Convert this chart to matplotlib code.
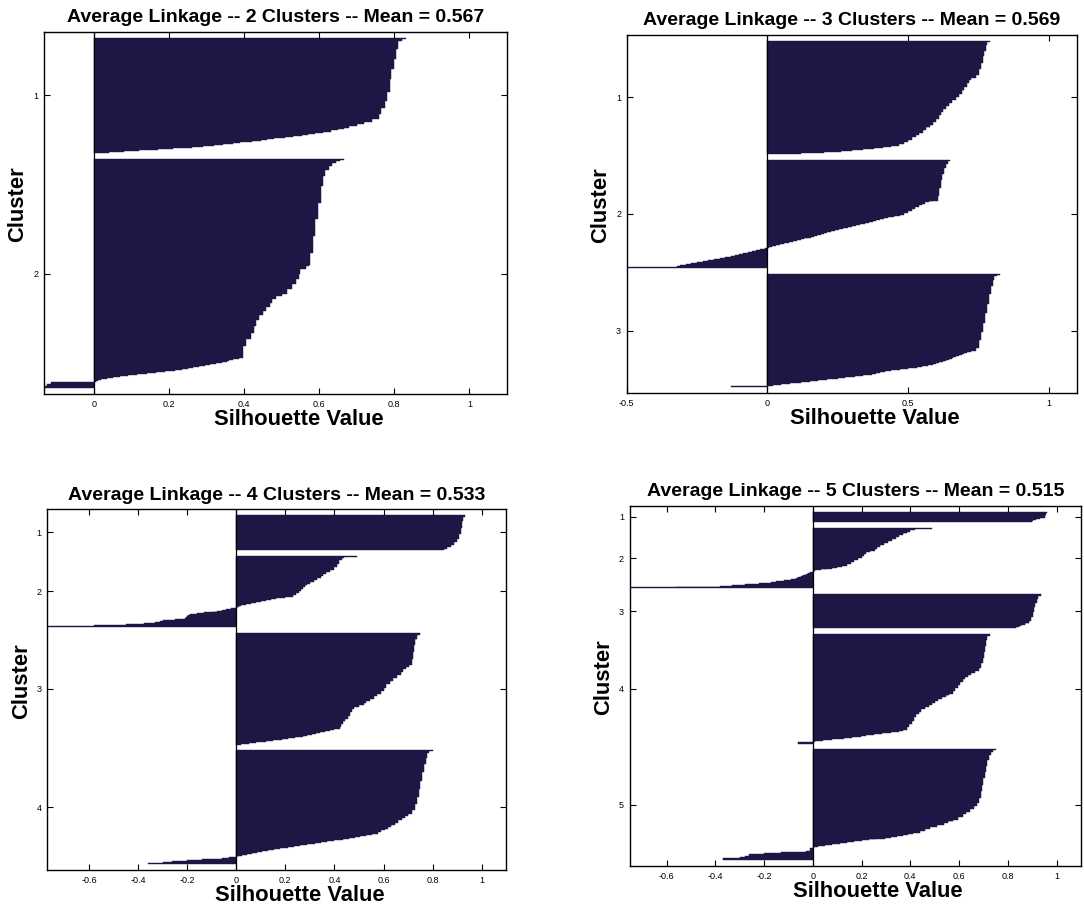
import numpy as np
import matplotlib
matplotlib.use('Agg')
import matplotlib.pyplot as plt
from matplotlib.ticker import FormatStrFormatter

plt.rcParams['font.family'] = ['Liberation Sans', 'DejaVu Sans']

bar_color = '#1c1745'
space = 6  # empty rows above, between and below the clusters

# sorted silhouette values per cluster, stored as value / number of samples
# ---- 2 clusters
k2_c1_vals = [0.83, 0.82, 0.81, 0.805, 0.80, 0.79, 0.788, 0.78, 0.775, 0.765, 0.76,
              0.74, 0.72, 0.70, 0.68, 0.665, 0.65, 0.63,
              0.61, 0.59, 0.57, 0.555, 0.53, 0.51, 0.48, 0.46, 0.445, 0.42, 0.39,
              0.37, 0.345, 0.32, 0.29, 0.26, 0.21, 0.17, 0.12, 0.08, 0.04]
k2_c1_reps = [1, 2, 8, 10, 10, 10, 13, 9, 7, 6, 5,
              3, 2, 2, 2, 1, 1, 2] + [1] * 21
k2_c2_vals = [0.665, 0.655, 0.645, 0.635, 0.625, 0.615, 0.61, 0.605, 0.597, 0.59, 0.584, 0.575, 0.573,
              0.565, 0.55, 0.545, 0.537, 0.528, 0.515, 0.50, 0.485, 0.475, 0.468, 0.458, 0.45,
              0.44, 0.432, 0.427, 0.418, 0.405, 0.398,
              0.385, 0.37, 0.36, 0.354, 0.34, 0.325, 0.31, 0.295, 0.28, 0.265, 0.25, 0.235,
              0.215, 0.19, 0.165, 0.14, 0.115, 0.09, 0.07, 0.05, 0.035, 0.02, 0.01, 0.005,
              -0.115, -0.125, -0.133]
k2_c2_reps = [1, 1, 2, 3, 4, 6, 10, 17, 16, 17, 17, 12, 1,
              3, 5, 5, 5, 5, 5, 2, 3, 4, 4, 4, 4,
              5, 6, 7, 6, 7, 12] + [1] * 24 + [2, 2, 2]

# ---- 3 clusters
k3_c1_vals = [0.79, 0.78, 0.775, 0.77, 0.765, 0.76, 0.752, 0.74, 0.725, 0.715,
              0.708, 0.70, 0.69, 0.68, 0.67, 0.655, 0.645, 0.635, 0.625, 0.618,
              0.61, 0.60, 0.59, 0.576, 0.565, 0.552, 0.54, 0.527, 0.515, 0.50, 0.485, 0.467,
              0.44, 0.41, 0.38, 0.34, 0.30, 0.26, 0.20, 0.12]
k3_c1_reps = [1, 3, 6, 6, 7, 6, 6, 3, 2, 3,
              4, 4, 4, 3, 3, 3, 3, 3, 3, 3,
              4, 3, 3, 3, 3, 3, 2, 2, 3, 2, 2, 2] + [1] * 8
k3_c2_vals = [0.648, 0.64, 0.633, 0.628, 0.622, 0.617, 0.61, 0.605,
              0.59, 0.575, 0.56, 0.55, 0.54, 0.525, 0.515, 0.50, 0.485,
              0.47, 0.45, 0.43, 0.415, 0.40, 0.385, 0.375, 0.36, 0.345, 0.33,
              0.315, 0.30, 0.285, 0.27, 0.255, 0.24, 0.225, 0.21, 0.20, 0.19,
              0.175, 0.165, 0.155, 0.14, 0.13, 0.12, 0.105, 0.09, 0.075, 0.06,
              0.045, 0.03, 0.015, 0.005,
              -0.01, -0.025, -0.04, -0.055, -0.07, -0.085, -0.10, -0.115, -0.13, -0.15,
              -0.17, -0.19, -0.21, -0.23, -0.25, -0.27, -0.29, -0.31, -0.32, -0.50]
k3_c2_reps = [1, 3, 5, 6, 6, 8, 8, 5,
              1, 1, 2, 1, 2, 2, 2, 2, 2] + [1] * 34 + [1] * 20
k3_c3_vals = [0.825, 0.815, 0.805, 0.80, 0.795, 0.788, 0.78, 0.773, 0.767, 0.76, 0.752, 0.74,
              0.725, 0.71, 0.70, 0.69, 0.68, 0.67, 0.66, 0.655, 0.645, 0.635,
              0.625, 0.61, 0.6, 0.588, 0.57, 0.55, 0.53, 0.50, 0.47, 0.44,
              0.418, 0.40, 0.385, 0.37, 0.34, 0.31, 0.275, 0.25, 0.21, 0.18,
              0.15, 0.12, 0.08, 0.05, 0.02, 0.006, -0.13]
k3_c3_reps = [1, 2, 4, 6, 8, 10, 10, 10, 9, 8, 8, 4] + [1] * 37

# ---- 4 clusters
k4_c1_vals = [0.933, 0.925, 0.92, 0.914, 0.908, 0.898, 0.887, 0.875, 0.86, 0.845]
k4_c1_reps = [2, 4, 7, 7, 5, 3, 3, 2, 2, 1]
k4_c2_vals = [0.49, 0.44, 0.43, 0.42, 0.41, 0.40,
              0.38, 0.365, 0.355, 0.345, 0.33, 0.315, 0.30, 0.29, 0.28,
              0.27, 0.262, 0.255, 0.245, 0.233,
              0.20, 0.16, 0.14, 0.12, 0.10, 0.08, 0.06, 0.04, 0.02, 0.01, 0.003,
              -0.02, -0.04, -0.06, -0.08, -0.10, -0.13, -0.16, -0.19, -0.195, -0.20,
              -0.205, -0.21, -0.25, -0.30, -0.31, -0.33, -0.375, -0.45, -0.58, -0.77]
k4_c2_reps = [1, 1, 3, 4, 3, 3] + [2] * 9 + [2, 2, 2, 2, 2] + [1] * 11 + [1] * 20
k4_c3_vals = [0.747, 0.738, 0.73, 0.725, 0.72, 0.716,
              0.705, 0.69, 0.68, 0.67, 0.655, 0.64, 0.625, 0.61, 0.60, 0.59, 0.575,
              0.56, 0.545, 0.53, 0.52, 0.50, 0.48,
              0.47, 0.464, 0.455, 0.445, 0.436, 0.428, 0.422,
              0.40, 0.38, 0.36, 0.34, 0.325, 0.31, 0.29, 0.27, 0.24, 0.21, 0.185,
              0.15, 0.12, 0.08, 0.05, 0.02]
k4_c3_reps = [2, 5, 6, 7, 7, 6,
              2, 3, 3, 3, 3, 3, 3, 4, 3, 3, 3, 3, 2, 2, 2, 2, 2,
              3, 4, 3, 3, 3, 3, 2] + [1] * 16
k4_c4_vals = [0.80, 0.785, 0.778, 0.772, 0.765, 0.757, 0.75, 0.743, 0.736, 0.728,
              0.715, 0.70, 0.688, 0.675, 0.66, 0.645, 0.632, 0.618, 0.604, 0.59, 0.576,
              0.555, 0.53, 0.506, 0.485, 0.46, 0.436, 0.40, 0.37, 0.345, 0.32, 0.29, 0.26,
              0.235, 0.21, 0.18, 0.155, 0.13, 0.105, 0.085, 0.065, 0.045, 0.025, 0.01, 0.003,
              -0.03, -0.06, -0.14, -0.2, -0.26, -0.30, -0.36]
k4_c4_reps = [1, 2, 5, 6, 8, 10, 8, 8, 8, 6,
              4, 2, 2, 2, 3, 2, 2, 2, 2, 2, 2] + [1] * 24 + [1] * 7

# ---- 5 clusters
k5_c1_vals = [0.96, 0.957, 0.953, 0.93, 0.915, 0.905, 0.898]
k5_c1_reps = [1, 3, 3, 1, 1, 1, 1]
k5_c2_vals = [0.49, 0.42,
              0.40, 0.385, 0.37, 0.355, 0.34, 0.325, 0.31, 0.29, 0.275, 0.265,
              0.255, 0.235, 0.22, 0.21, 0.2, 0.185, 0.17, 0.155,
              0.14, 0.12, 0.10, 0.08, 0.06, 0.035, 0.01, 0.005,
              -0.01, -0.02, -0.03, -0.04, -0.05, -0.06, -0.07, -0.09, -0.12, -0.15,
              -0.17, -0.22, -0.28, -0.33, -0.38, -0.56, -0.752]
k5_c2_reps = [1, 1] + [2] * 18 + [2] + [1] * 6 + [1] + [1] * 17
k5_c3_vals = [0.935, 0.925, 0.918, 0.912, 0.907, 0.902, 0.896, 0.885, 0.87, 0.855, 0.845, 0.835]
k5_c3_reps = [2, 3, 4, 5, 5, 5, 4, 3, 2, 1, 1, 1]
k5_c4_vals = [0.728, 0.715, 0.71, 0.706, 0.702, 0.698, 0.69, 0.68,
              0.665, 0.65, 0.636, 0.625, 0.615, 0.605, 0.594, 0.585, 0.575,
              0.56, 0.545, 0.53, 0.515, 0.50, 0.488, 0.475, 0.46,
              0.445, 0.435, 0.425, 0.415, 0.405, 0.395, 0.385,
              0.37, 0.354,
              0.32, 0.283, 0.25, 0.22, 0.198, 0.16, 0.127, 0.08, 0.04, 0.01, -0.06]
k5_c4_reps = [2, 4, 7, 6, 6, 6, 5, 3,
              2, 2, 2, 3, 3, 3, 3, 3, 3,
              2, 2, 2, 2, 2, 2, 2, 2,
              3, 3, 3, 4, 3, 3, 3,
              1, 2] + [1] * 10 + [2]
k5_c5_vals = [0.75, 0.74, 0.73, 0.722, 0.716, 0.71, 0.705, 0.70, 0.695, 0.688, 0.68, 0.672,
              0.66, 0.645, 0.63, 0.615, 0.595, 0.573, 0.555, 0.537, 0.51, 0.48, 0.46, 0.438,
              0.41, 0.39, 0.368, 0.345, 0.32, 0.297, 0.26, 0.23, 0.2, 0.17, 0.14, 0.11,
              0.08, 0.05, 0.02, 0.005,
              -0.01, -0.03, -0.13, -0.2, -0.26, -0.28, -0.3, -0.368]
k5_c5_reps = [1, 2, 3, 5, 6, 7, 6, 7, 7, 7, 5, 4,
              3, 3, 2, 3, 3, 2, 2, 2, 2, 2, 2, 2] + [1] * 16 + [3, 1, 1, 1, 2, 2, 1, 2]

means = [0.567, 0.569, 0.533, 0.515]
xticks_k2 = [0, 0.2, 0.4, 0.6, 0.8, 1]
xticks_k3 = [-0.5, 0, 0.5, 1]
xticks_k45 = [-0.6, -0.4, -0.2, 0, 0.2, 0.4, 0.6, 0.8, 1]

W, H = 1084, 905
fig = plt.figure(figsize=(W / 100, H / 100), dpi=100)


def silhouette_panel(rect, clusters, mean, xticks):
    # rect is left, top, right, bottom in pixels
    left, top, right, bottom = rect
    ax = fig.add_axes([left / W, 1 - bottom / H, (right - left) / W, (bottom - top) / H])
    pos = space
    centers = []
    lowest = 0
    for vals, reps in clusters:
        s = np.repeat(vals, reps)
        y = pos + 1 + np.arange(len(s))
        ax.barh(y, s, height=1.0, color=bar_color, edgecolor=bar_color, linewidth=0.3)
        centers.append(y.mean())
        pos += len(s) + space
        lowest = min(lowest, s.min())
    ax.axvline(0, color='black', lw=0.9)
    ax.set_ylim(pos + 0.5, 0.5)
    ax.set_xlim(lowest, 1.1)
    ax.set_yticks(centers)
    ax.set_yticklabels([str(i + 1) for i in range(len(clusters))])
    ax.set_xticks(xticks)
    ax.xaxis.set_major_formatter(FormatStrFormatter('%g'))
    ax.tick_params(direction='in', length=4, width=0.8, top=True, right=True,
                   labelsize=6.5, pad=4)
    for sp in ax.spines.values():
        sp.set_linewidth(1.0)
    ax.set_title('Average Linkage -- %d Clusters -- Mean = %.3f' % (len(clusters), mean),
                 fontsize=14, fontweight='bold', pad=7)
    w, h = right - left, bottom - top
    # axis labels sit a little off-centre, as in the original figure export
    ax.text(0.5 + 23 / w, -31 / h, 'Silhouette Value', transform=ax.transAxes,
            ha='center', va='baseline', fontsize=15.8, fontweight='bold')
    ax.text(-26 / w, 0.5 + 9 / h, 'Cluster', transform=ax.transAxes, rotation=90,
            ha='center', va='center', fontsize=15.8, fontweight='bold')
    return ax


silhouette_panel((44, 31.7, 507, 394.3),
                 [(k2_c1_vals, k2_c1_reps), (k2_c2_vals, k2_c2_reps)],
                 means[0], xticks_k2)
silhouette_panel((626.7, 35, 1077, 393.3),
                 [(k3_c1_vals, k3_c1_reps), (k3_c2_vals, k3_c2_reps), (k3_c3_vals, k3_c3_reps)],
                 means[1], xticks_k3)
silhouette_panel((47.2, 509.3, 506.3, 870),
                 [(k4_c1_vals, k4_c1_reps), (k4_c2_vals, k4_c2_reps),
                  (k4_c3_vals, k4_c3_reps), (k4_c4_vals, k4_c4_reps)],
                 means[2], xticks_k45)
silhouette_panel((629.5, 506, 1081, 866),
                 [(k5_c1_vals, k5_c1_reps), (k5_c2_vals, k5_c2_reps), (k5_c3_vals, k5_c3_reps),
                  (k5_c4_vals, k5_c4_reps), (k5_c5_vals, k5_c5_reps)],
                 means[3], xticks_k45)

fig.savefig('out.png', dpi=100, facecolor='white')
